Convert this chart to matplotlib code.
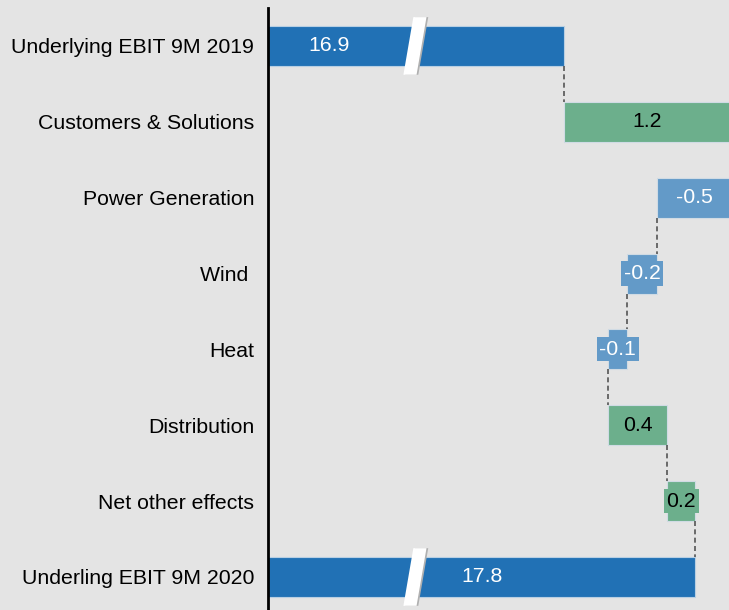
import matplotlib.pyplot as plt
from matplotlib.patches import Polygon

plt.rcParams['font.family'] = ['Liberation Sans', 'DejaVu Sans']

# categories and values (deltas are unrounded estimates, labels as printed)
categories = ["Underlying EBIT 9M 2019", "Customers & Solutions", "Power Generation",
              "Wind ", "Heat", "Distribution", "Net other effects", "Underling EBIT 9M 2020"]
start_value = 16.9
deltas = [1.14, -0.5, -0.21, -0.125, 0.4, 0.195]
value_labels = ["16.9", "1.2", "-0.5", "-0.2", "-0.1", "0.4", "0.2", "17.8"]

bg = '#e4e4e4'
c_total = '#2171b5'
c_pos = '#6caf8c'
c_neg = '#639ac8'
bar_h = 0.527
fs = 15.3

fig = plt.figure(figsize=(7.29, 6.10), dpi=100, facecolor=bg)
ax = fig.add_axes([268 / 729, 0, 461 / 729, 602 / 610])
ax.set_facecolor(bg)

# totals
end_value = start_value + sum(deltas)
ax.barh(0, start_value, height=bar_h, color=c_total, edgecolor='#b8cfe3', linewidth=0.8)
ax.barh(7, end_value, height=bar_h, color=c_total, edgecolor='#b8cfe3', linewidth=0.8)

# floating bars + connectors
level = start_value
ax.plot([level, level], [0 + bar_h / 2, 1 - bar_h / 2], color='#555555', lw=1.2,
        dashes=(3, 2))
for i, d in enumerate(deltas):
    row = i + 1
    col = c_pos if d > 0 else c_neg
    ax.barh(row, abs(d), left=min(level, level + d), height=bar_h, color=col,
            edgecolor='#d0dbe4', linewidth=0.8)
    txt_col = 'black' if d > 0 else 'white'
    ax.text(level + d / 2, row, value_labels[row], ha='center', va='center',
            fontsize=fs, color=txt_col,
            bbox=dict(boxstyle='square,pad=0.12', facecolor=col, edgecolor='none'))
    level += d
    ax.plot([level, level], [row + bar_h / 2, row + 1 - bar_h / 2], color='#555555',
            lw=1.2, dashes=(3, 2))

# total labels
ax.text(15.29, 0, value_labels[0], ha='center', va='center', fontsize=fs, color='white')
ax.text(16.34, 7, value_labels[7], ha='center', va='center', fontsize=fs, color='white')

# axis break slashes
brk_x = 15.88
for row in [0, 7]:
    for off, fc in [(0.012, '#b0b0b0'), (0.0, 'white')]:
        cx = brk_x + off
        pts = [(cx + 0.034 - 0.045, row - 0.38), (cx + 0.034 + 0.045, row - 0.38),
               (cx - 0.034 + 0.045, row + 0.38), (cx - 0.034 - 0.045, row + 0.38)]
        ax.add_patch(Polygon(pts, closed=True, facecolor=fc, edgecolor='none', zorder=5))

ax.set_xlim(14.874, 18.03)
ax.set_ylim(7.435, -0.5)
ax.set_yticks(range(len(categories)))
ax.set_yticklabels(categories, fontsize=fs)
ax.tick_params(axis='y', length=0, pad=10)
ax.set_xticks([])
for s in ['top', 'right', 'bottom']:
    ax.spines[s].set_visible(False)
ax.spines['left'].set_linewidth(2)
ax.spines['left'].set_color('black')

fig.savefig('out.png', dpi=100, facecolor=bg)
